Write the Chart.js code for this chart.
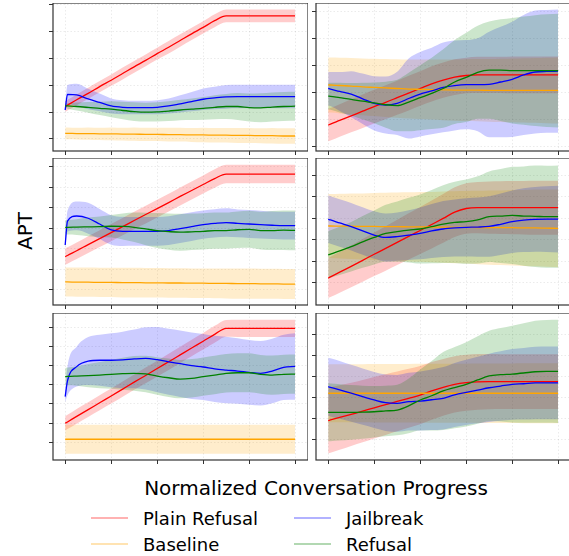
<!DOCTYPE html>
<html>
<head>
<meta charset="utf-8">
<script src="https://cdn.jsdelivr.net/npm/chart.js@4.4.1/dist/chart.umd.min.js"></script>
<style>
  body { margin: 0; width: 569px; height: 556px; overflow: hidden; background: #fff; position: relative; font-family: "DejaVu Sans", sans-serif; color: #000; }
  canvas { position: absolute; }
  #ylabel { position: absolute; left: 25px; top: 231px; transform: translate(-50%, -50%) rotate(-90deg); font-size: 20px; white-space: nowrap; }
  #xlabel { position: absolute; left: 316px; top: 488px; transform: translate(-50%, -50%); font-size: 20px; white-space: nowrap; }
  .legend-item { position: absolute; display: flex; align-items: center; font-size: 18px; white-space: nowrap; transform: translateY(-50%); }
  .legend-item i { display: inline-block; width: 37px; height: 0; border-top: 1.5px solid; margin-right: 15px; }
</style>
</head>
<body>
<div id="ylabel">APT</div>
<div id="xlabel">Normalized Conversation Progress</div>
<div id="legend"></div>
<script>
// x positions (normalized progress)
const xs = [0, 0.01, 0.05, 0.1, 0.15, 0.2, 0.25, 0.3, 0.35, 0.4, 0.45, 0.5, 0.55, 0.6, 0.65, 0.7, 0.75, 0.8, 0.85, 0.9, 0.95, 1];
const xTicks = [0, 0.2, 0.4, 0.6, 0.8, 1];

// series order = plot order
const seriesNames = ["Plain Refusal", "Baseline", "Jailbreak", "Refusal"];
const lineColors = ["#ff0000", "#ffa500", "#0000ff", "#008000"];
const bandColors = ["rgba(255,0,0,0.2)", "rgba(255,165,0,0.2)", "rgba(0,0,255,0.2)", "rgba(0,128,0,0.2)"];
const legendColors = ["rgba(255,0,0,0.6)", "rgba(255,165,0,0.6)", "rgba(0,0,255,0.6)", "rgba(0,128,0,0.6)"];

// top left
const tlPlain = [1.21,1.26,1.46,1.70,1.95,2.19,2.44,2.69,2.93,3.18,3.42,3.67,3.92,4.16,4.41,4.59,4.59,4.59,4.59,4.59,4.59,4.59];
const tlPlainSd = [0.2,0.2,0.2,0.21,0.21,0.21,0.22,0.22,0.22,0.22,0.23,0.23,0.23,0.23,0.24,0.24,0.24,0.24,0.24,0.24,0.24,0.24];
const tlBase = [0.21,0.21,0.2,0.2,0.19,0.19,0.18,0.18,0.17,0.17,0.16,0.16,0.15,0.15,0.14,0.14,0.13,0.13,0.12,0.12,0.11,0.11];
const tlBaseSd = [0.22,0.22,0.22,0.23,0.23,0.24,0.24,0.25,0.25,0.25,0.26,0.26,0.26,0.27,0.27,0.27,0.28,0.28,0.28,0.29,0.29,0.29];
const tlJail = [1.08,1.66,1.64,1.49,1.36,1.23,1.18,1.17,1.17,1.18,1.23,1.31,1.39,1.48,1.53,1.57,1.58,1.58,1.58,1.58,1.58,1.58];
const tlJailSd = [0.1,0.35,0.42,0.38,0.33,0.28,0.26,0.25,0.25,0.26,0.28,0.32,0.36,0.4,0.42,0.44,0.44,0.44,0.44,0.44,0.44,0.44];
const tlRefusal = [1.23,1.23,1.21,1.18,1.14,1.11,1.06,1.02,1.0,1.01,1.04,1.08,1.11,1.14,1.18,1.21,1.21,1.17,1.16,1.19,1.21,1.22];
const tlRefusalSd = [0.08,0.1,0.15,0.2,0.25,0.3,0.33,0.35,0.35,0.36,0.37,0.38,0.4,0.42,0.45,0.47,0.5,0.52,0.54,0.54,0.54,0.54];

// top right
const trPlain = [0.79,0.82,0.96,1.13,1.30,1.47,1.63,1.80,1.97,2.14,2.31,2.45,2.56,2.62,2.64,2.64,2.64,2.64,2.64,2.64,2.64,2.64];
const trPlainSd = [0.6,0.6,0.6,0.61,0.62,0.62,0.63,0.63,0.64,0.64,0.65,0.65,0.66,0.66,0.67,0.67,0.67,0.68,0.68,0.68,0.68,0.68];
const trBase = [2.27,2.27,2.25,2.23,2.2,2.18,2.16,2.14,2.12,2.11,2.1,2.09,2.08,2.08,2.08,2.07,2.07,2.07,2.07,2.07,2.07,2.07];
const trBaseSd = [1.02,1.02,1.03,1.04,1.05,1.06,1.07,1.08,1.09,1.1,1.11,1.12,1.13,1.14,1.15,1.16,1.17,1.18,1.19,1.2,1.21,1.22];
const trJail = [2.14,2.12,2.03,1.93,1.76,1.59,1.53,1.59,1.77,1.93,2.05,2.18,2.25,2.28,2.28,2.29,2.38,2.48,2.64,2.75,2.77,2.78];
const trJailSd = [0.62,0.63,0.72,0.85,0.93,1.0,1.05,1.17,1.48,1.56,1.6,1.66,1.66,1.65,1.72,1.95,2.04,2.13,2.22,2.27,2.27,2.28];
const trRefusal = [1.86,1.85,1.80,1.74,1.67,1.61,1.54,1.51,1.64,1.80,1.96,2.14,2.38,2.55,2.74,2.82,2.82,2.80,2.80,2.80,2.80,2.80];
const trRefusalSd = [0.5,0.5,0.55,0.6,0.68,0.75,0.85,0.95,1.08,1.2,1.32,1.45,1.55,1.65,1.72,1.8,1.88,1.95,2.0,2.05,2.08,2.1];

// middle left
const mlPlain = [1.62,1.68,1.91,2.21,2.50,2.79,3.08,3.38,3.67,3.96,4.25,4.55,4.84,5.13,5.42,5.64,5.64,5.64,5.64,5.64,5.64,5.64];
const mlPlainSd = [0.4,0.4,0.4,0.41,0.41,0.42,0.42,0.42,0.43,0.43,0.43,0.44,0.44,0.44,0.45,0.45,0.45,0.45,0.45,0.45,0.45,0.45];
const mlBase = [0.39,0.39,0.38,0.38,0.37,0.37,0.36,0.36,0.35,0.35,0.34,0.34,0.33,0.33,0.32,0.32,0.31,0.31,0.3,0.3,0.29,0.29];
const mlBaseSd = [0.71,0.71,0.71,0.71,0.71,0.71,0.72,0.72,0.72,0.72,0.72,0.72,0.72,0.72,0.72,0.73,0.73,0.73,0.73,0.73,0.73,0.73];
const mlJail = [2.19,3.35,3.6,3.49,3.21,2.92,2.85,2.85,2.85,2.85,2.89,2.98,3.08,3.18,3.24,3.28,3.24,3.21,3.18,3.15,3.13,3.13];
const mlJailSd = [0.2,0.5,0.7,0.75,0.73,0.72,0.71,0.7,0.7,0.7,0.7,0.7,0.7,0.69,0.69,0.69,0.68,0.68,0.68,0.67,0.67,0.67];
const mlRefusal = [3.05,3.05,3.06,3.07,3.08,3.10,3.09,3.05,2.97,2.89,2.84,2.81,2.83,2.85,2.89,2.89,2.93,2.95,2.89,2.89,2.91,2.90];
const mlRefusalSd = [0.35,0.35,0.38,0.45,0.5,0.55,0.63,0.72,0.79,0.85,0.88,0.9,0.89,0.88,0.88,0.88,0.89,0.9,0.92,0.95,0.96,0.97];

// middle right
const mrPlain = [0.22,0.28,0.50,0.77,1.05,1.33,1.60,1.88,2.16,2.43,2.71,2.99,3.28,3.45,3.49,3.49,3.49,3.49,3.49,3.49,3.49,3.49];
const mrPlainSd = [0.92,0.93,0.95,0.97,0.99,1.01,1.03,1.05,1.07,1.09,1.11,1.13,1.15,1.17,1.19,1.21,1.22,1.23,1.24,1.25,1.25,1.25];
const mrBase = [2.64,2.64,2.63,2.63,2.62,2.62,2.61,2.61,2.6,2.6,2.59,2.59,2.58,2.58,2.57,2.57,2.56,2.56,2.55,2.55,2.54,2.53];
const mrBaseSd = [1.48,1.48,1.5,1.52,1.53,1.55,1.57,1.58,1.6,1.62,1.63,1.65,1.67,1.68,1.7,1.72,1.73,1.75,1.76,1.78,1.79,1.8];
const mrJail = [2.95,2.92,2.78,2.61,2.41,2.22,2.11,2.15,2.22,2.30,2.41,2.50,2.55,2.58,2.59,2.62,2.72,2.84,2.91,2.95,2.96,2.96];
const mrJailSd = [1.1,1.1,1.1,1.1,1.1,1.1,1.11,1.12,1.15,1.2,1.25,1.3,1.32,1.35,1.37,1.4,1.42,1.45,1.48,1.5,1.52,1.55];
const mrRefusal = [1.30,1.34,1.49,1.68,1.90,2.11,2.30,2.38,2.45,2.50,2.61,2.73,2.81,2.84,2.92,3.07,3.10,3.13,3.10,3.09,3.07,3.07];
const mrRefusalSd = [1.1,1.1,1.12,1.15,1.2,1.25,1.32,1.4,1.5,1.6,1.7,1.8,1.88,1.95,2.02,2.1,2.18,2.25,2.3,2.35,2.36,2.37];

// bottom left
const blPlain = [0.99,1.06,1.35,1.70,2.06,2.41,2.77,3.13,3.48,3.84,4.19,4.55,4.91,5.26,5.62,5.93,5.93,5.93,5.93,5.93,5.93,5.93];
const blPlainSd = [0.37,0.37,0.38,0.38,0.39,0.39,0.4,0.4,0.41,0.41,0.42,0.42,0.43,0.43,0.44,0.44,0.45,0.45,0.45,0.45,0.45,0.45];
const blBase = [0.16,0.16,0.16,0.16,0.16,0.16,0.16,0.16,0.16,0.16,0.16,0.16,0.16,0.16,0.16,0.16,0.16,0.16,0.16,0.16,0.16,0.16];
const blBaseSd = [0.75,0.75,0.75,0.75,0.75,0.75,0.75,0.75,0.75,0.75,0.75,0.75,0.75,0.75,0.75,0.75,0.75,0.75,0.75,0.75,0.75,0.75];
const blJail = [2.38,3.2,3.94,4.23,4.27,4.27,4.29,4.34,4.37,4.30,4.19,4.09,3.99,3.92,3.82,3.76,3.71,3.64,3.59,3.71,3.90,3.95];
const blJailSd = [0.3,0.75,1.04,1.25,1.33,1.40,1.47,1.53,1.62,1.7,1.72,1.73,1.73,1.72,1.72,1.73,1.7,1.68,1.68,1.68,1.7,1.73];
const blRefusal = [3.42,3.43,3.45,3.47,3.50,3.54,3.57,3.59,3.56,3.45,3.36,3.29,3.33,3.42,3.50,3.59,3.62,3.62,3.54,3.50,3.54,3.55];
const blRefusalSd = [0.45,0.46,0.5,0.6,0.68,0.75,0.83,0.9,0.95,0.98,1.0,1.0,1.0,1.0,1.0,1.0,1.01,1.01,1.01,1.02,1.02,1.02];

// bottom right
const brPlain = [0.92,0.95,1.07,1.22,1.37,1.53,1.68,1.83,1.98,2.13,2.33,2.50,2.64,2.72,2.76,2.77,2.77,2.77,2.77,2.77,2.77,2.77];
const brPlainSd = [1.55,1.55,1.53,1.5,1.48,1.46,1.44,1.42,1.4,1.38,1.37,1.35,1.34,1.33,1.32,1.31,1.3,1.3,1.3,1.3,1.3,1.3];
const brBase = [2.22,2.22,2.22,2.22,2.22,2.22,2.22,2.22,2.22,2.22,2.22,2.22,2.22,2.22,2.22,2.22,2.22,2.22,2.22,2.22,2.22,2.22];
const brBaseSd = [1.38,1.38,1.38,1.38,1.38,1.39,1.39,1.39,1.39,1.4,1.4,1.4,1.4,1.4,1.41,1.41,1.41,1.41,1.42,1.42,1.42,1.42];
const brJail = [2.53,2.50,2.38,2.22,2.06,1.90,1.77,1.74,1.82,1.85,1.91,1.98,2.14,2.26,2.37,2.48,2.56,2.64,2.67,2.71,2.71,2.71];
const brJailSd = [1.38,1.38,1.37,1.35,1.34,1.33,1.34,1.35,1.37,1.4,1.44,1.48,1.52,1.55,1.58,1.62,1.65,1.68,1.7,1.72,1.73,1.73];
const brRefusal = [1.31,1.31,1.31,1.31,1.32,1.34,1.38,1.42,1.62,1.90,2.10,2.33,2.49,2.64,2.85,3.04,3.10,3.13,3.18,3.24,3.26,3.26];
const brRefusalSd = [1.38,1.37,1.34,1.3,1.26,1.22,1.2,1.2,1.3,1.45,1.65,1.85,1.93,2.0,2.08,2.15,2.22,2.3,2.36,2.42,2.44,2.45];

// panel layout (canvas box) + y range
const panels = [
  { left: 49, top: 3, w: 259, h: 152, yMin: -0.45, yMax: 5.07,
    series: [[tlPlain, tlPlainSd], [tlBase, tlBaseSd], [tlJail, tlJailSd], [tlRefusal, tlRefusalSd]] },
  { left: 312, top: 3, w: 259, h: 152, yMin: -0.17, yMax: 5.30,
    series: [[trPlain, trPlainSd], [trBase, trBaseSd], [trJail, trJailSd], [trRefusal, trRefusalSd]] },
  { left: 49, top: 158, w: 259, h: 151, yMin: -0.73, yMax: 6.42,
    series: [[mlPlain, mlPlainSd], [mlBase, mlBaseSd], [mlJail, mlJailSd], [mlRefusal, mlRefusalSd]] },
  { left: 312, top: 158, w: 259, h: 151, yMin: -1.02, yMax: 5.79,
    series: [[mrPlain, mrPlainSd], [mrBase, mrBaseSd], [mrJail, mrJailSd], [mrRefusal, mrRefusalSd]] },
  { left: 49, top: 313, w: 259, h: 151, yMin: -0.92, yMax: 6.73,
    series: [[blPlain, blPlainSd], [blBase, blBaseSd], [blJail, blJailSd], [blRefusal, blRefusalSd]] },
  { left: 312, top: 313, w: 259, h: 151, yMin: -0.95, yMax: 6.03,
    series: [[brPlain, brPlainSd], [brBase, brBaseSd], [brJail, brJailSd], [brRefusal, brRefusalSd]] },
];

const xMin = -0.053;
const xMax = 1.056;
const TICK_LEN = 4;

// box around each axes, drawn on top like matplotlib spines
const framePlugin = {
  id: "frame",
  afterDatasetsDraw(chart) {
    const { ctx, chartArea: a } = chart;
    ctx.save();
    ctx.strokeStyle = "#333";
    ctx.lineWidth = 1.2;
    ctx.strokeRect(a.left, a.top, a.right - a.left, a.bottom - a.top);
    ctx.restore();
  },
};

const gridOpts = {
  color: "rgba(0,0,0,0.1)",
  lineWidth: 0.8,
  tickColor: "#333",
  tickWidth: 1,
  tickLength: TICK_LEN,
};

// bands first, then the mean lines on top
const buildDatasets = function (series) {
  const bands = [];
  const lines = [];
  series.forEach(([mean, sd], k) => {
    bands.push({
      data: xs.map((x, i) => ({ x: x, y: mean[i] - sd[i] })),
      borderWidth: 0,
      borderColor: "rgba(0,0,0,0)",
      pointRadius: 0,
      fill: false,
      cubicInterpolationMode: "monotone",
    });
    bands.push({
      data: xs.map((x, i) => ({ x: x, y: mean[i] + sd[i] })),
      borderWidth: 0,
      borderColor: "rgba(0,0,0,0)",
      backgroundColor: bandColors[k],
      pointRadius: 0,
      fill: bands.length - 1,
      cubicInterpolationMode: "monotone",
    });
    lines.push({
      label: seriesNames[k],
      data: xs.map((x, i) => ({ x: x, y: mean[i] })),
      borderColor: lineColors[k],
      borderWidth: 1.3,
      pointRadius: 0,
      fill: false,
      cubicInterpolationMode: "monotone",
    });
  });
  const datasets = bands.concat(lines);
  // first in the list is drawn first (bottom)
  datasets.forEach((d, i) => { d.order = -i; });
  return datasets;
};

panels.forEach((p) => {
  const canvas = document.createElement("canvas");
  canvas.width = p.w;
  canvas.height = p.h;
  canvas.style.left = p.left + "px";
  canvas.style.top = p.top + "px";
  canvas.style.width = p.w + "px";
  canvas.style.height = p.h + "px";
  document.body.appendChild(canvas);

  new Chart(canvas.getContext("2d"), {
    type: "line",
    data: { datasets: buildDatasets(p.series) },
    options: {
      responsive: false,
      animation: false,
      events: [],
      layout: { padding: 0 },
      plugins: { legend: { display: false }, tooltip: { enabled: false } },
      scales: {
        x: {
          type: "linear",
          min: xMin,
          max: xMax,
          ticks: { display: false },
          grid: gridOpts,
          border: { display: false, dash: [1.5, 2] },
          afterBuildTicks: (axis) => { axis.ticks = xTicks.map((v) => ({ value: v })); },
          afterFit: (axis) => { axis.height = TICK_LEN; },
        },
        y: {
          type: "linear",
          min: p.yMin,
          max: p.yMax,
          ticks: { display: false },
          grid: gridOpts,
          border: { display: false, dash: [1.5, 2] },
          afterBuildTicks: (axis) => {
            const vals = [];
            for (let v = Math.ceil(p.yMin); v <= Math.floor(p.yMax); v++) {
              if (v - p.yMin > 0.04 && p.yMax - v > 0.04) vals.push({ value: v });
            }
            axis.ticks = vals;
          },
          afterFit: (axis) => { axis.width = TICK_LEN; },
        },
      },
    },
    plugins: [framePlugin],
  });
});

// legend (2 columns, column-major like matplotlib)
const legendPos = [[91, 518], [91, 544], [294, 518], [294, 544]];
const legendEl = document.getElementById("legend");
seriesNames.forEach((name, k) => {
  const item = document.createElement("div");
  item.className = "legend-item";
  item.style.left = legendPos[k][0] + "px";
  item.style.top = legendPos[k][1] + "px";
  const line = document.createElement("i");
  line.style.borderTopColor = legendColors[k];
  item.appendChild(line);
  item.appendChild(document.createTextNode(name));
  legendEl.appendChild(item);
});
</script>
</body>
</html>
